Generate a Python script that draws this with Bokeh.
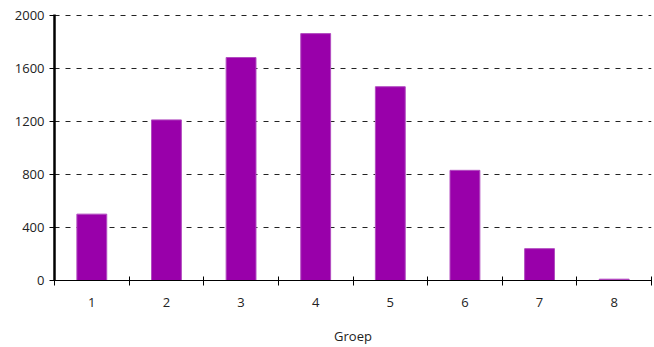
from bokeh.plotting import figure
from bokeh.models import Range1d, FixedTicker, ColumnDataSource
from bokeh.embed import file_html
from bokeh.resources import INLINE

groups = ["1", "2", "3", "4", "5", "6", "7", "8"]
counts = [500, 1210, 1680, 1860, 1460, 830, 240, 10]
y_ticks = [0, 400, 800, 1200, 1600, 2000]
x_label = "Groep"

xs = list(range(1, len(groups) + 1))
src = ColumnDataSource(dict(x=xs, top=counts, g=groups))

FONT = "Open Sans"
TXT = "#222222"

p = figure(width=654, height=347, output_backend="svg", toolbar_location=None,
           x_range=Range1d(0.5, len(groups) + 0.5), y_range=Range1d(0, 2004),
           min_border_left=54, min_border_right=3, min_border_top=14, min_border_bottom=67)
p.outline_line_color = None
p.background_fill_color = "white"

p.vbar(x="x", top="top", width=0.4, source=src, fill_color="#9900aa", line_color="#b24cc0", line_width=1)

# x axis
p.xaxis.ticker = FixedTicker(ticks=xs, minor_ticks=[x - 0.5 for x in xs] + [xs[-1] + 0.5])
p.xaxis.major_label_overrides = {x: g for x, g in zip(xs, groups)}
p.xaxis.major_tick_line_color = None
p.xaxis.major_tick_out = 0
p.xaxis.major_tick_in = 0
p.xaxis.minor_tick_line_color = "black"
p.xaxis.minor_tick_in = 4
p.xaxis.minor_tick_out = 5
p.xaxis.axis_line_color = "black"
p.xaxis.axis_line_width = 1
p.xaxis.major_label_standoff = 12
p.xaxis.major_label_text_font = FONT
p.xaxis.major_label_text_font_size = "13px"
p.xaxis.major_label_text_color = TXT
p.xaxis.axis_label = x_label
p.xaxis.axis_label_text_font = FONT
p.xaxis.axis_label_text_font_size = "13px"
p.xaxis.axis_label_text_font_style = "normal"
p.xaxis.axis_label_text_color = TXT
p.xaxis.axis_label_standoff = 17

# y axis
p.yaxis.ticker = FixedTicker(ticks=y_ticks)
p.yaxis.minor_tick_line_color = None
p.yaxis.major_tick_in = 0
p.yaxis.major_tick_out = 5
p.yaxis.major_tick_line_color = "black"
p.yaxis.axis_line_color = "black"
p.yaxis.axis_line_width = 2.5
p.yaxis.major_label_standoff = 5
p.yaxis.major_label_text_font = FONT
p.yaxis.major_label_text_font_size = "13px"
p.yaxis.major_label_text_color = TXT

# grid
p.xgrid.grid_line_color = None
p.ygrid.grid_line_color = "#222222"
p.ygrid.grid_line_dash = "5 6"
p.ygrid.grid_line_width = 1

open("out.html", "w").write(file_html(p, INLINE))
